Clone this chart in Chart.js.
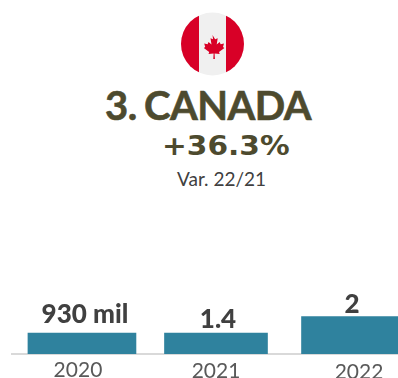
<!DOCTYPE html>
<html>
<head>
<meta charset="utf-8">
<script src="https://cdn.jsdelivr.net/npm/chart.js@4"></script>
<style>
  html, body { margin: 0; background: #fff; overflow: hidden; }
  #wrap { position: relative; width: 398px; height: 378px; }
  #myChart { position: absolute; left: 0; top: 0; }
  .txt { position: absolute; white-space: nowrap; line-height: 1; }
  #flag { position: absolute; left: 181px; top: 12px; }
  #title { left: 105px; top: 81px; font: 700 40px Lato, sans-serif; color: #4d4a2e; letter-spacing: -0.5px; word-spacing: -2px; -webkit-text-stroke: 0.6px #4d4a2e; }
  #change { left: 162px; top: 131px; font: 700 26px "DejaVu Sans", sans-serif; color: #4d4a2e; transform: scaleX(1.14); transform-origin: left top; }
  #note { left: 177px; top: 167px; font: 400 19px Lato, sans-serif; color: #404040; }
</style>
</head>
<body>
<div id="wrap">
  <svg id="flag" width="63" height="64" viewBox="0 0 63 64">
    <defs><clipPath id="disc"><circle cx="31.5" cy="32" r="31.5"/></clipPath></defs>
    <g clip-path="url(#disc)">
      <rect width="63" height="64" fill="#f0f0f0"/>
      <rect width="18" height="64" fill="#d80027"/>
      <rect x="45" width="18" height="64" fill="#d80027"/>
      <path fill="#d80027" d="M31.5 23l2.6 4.2 2.6-1-1 6.4 3-2.6.9 2.2 3.4-.6-1 3.4 1.4.9-5.4 4.2.7 2-5.1-.6.3 5.4h-1.6l.3-5.4-5.1.6.7-2-5.4-4.2 1.4-.9-1-3.4 3.4.6.9-2.2 3 2.6-1-6.4 2.6 1z"/>
    </g>
  </svg>
  <div class="txt" id="title">3. CANADA</div>
  <div class="txt" id="change">+36.3%</div>
  <div class="txt" id="note">Var. 22/21</div>
  <canvas id="myChart" width="398" height="378"></canvas>
</div>
<script>
  const years = [2020, 2021, 2022];
  // bar heights as drawn in the picture, the first two bars are the same height there
  const barValues = [1.12, 1.12, 2];
  const barLabels = ['930 mil', '1.4', '2'];
  const barWidths = [108, 103, 97];
  const yearShift = [-4, 0, 9];
  const yearY = [377, 378, 379];

  // draws the value above each bar and the year under it
  const barText = {
    id: 'barText',
    afterDatasetsDraw(chart) {
      const ctx = chart.ctx;
      ctx.save();
      ctx.textAlign = 'center';
      ctx.textBaseline = 'alphabetic';
      years.forEach((year, i) => {
        const bar = chart.getDatasetMeta(i).data[0];
        ctx.fillStyle = '#404040';
        ctx.font = '900 26px Lato, sans-serif';
        ctx.fillText(barLabels[i], bar.x + [3, 2, 2][i], bar.y - [10, 5, 4][i]);
        ctx.fillStyle = '#595959';
        ctx.font = '400 21px Lato, sans-serif';
        ctx.fillText(year, chart.scales.x.getPixelForValue(year) + yearShift[i], yearY[i]);
      });
      ctx.restore();
    }
  };

  new Chart(document.getElementById('myChart').getContext('2d'), {
    type: 'bar',
    data: {
      datasets: years.map((year, i) => ({
        data: [{ x: year, y: barValues[i] }],
        backgroundColor: '#2f829e',
        barThickness: barWidths[i],
        grouped: false
      }))
    },
    options: {
      responsive: false,
      animation: false,
      layout: { padding: { left: 12, right: 0, top: 279, bottom: 24 } },
      plugins: { legend: { display: false }, tooltip: { enabled: false } },
      scales: {
        x: {
          type: 'linear',
          offset: false,
          min: 2019.478,
          max: 2022.358,
          grid: { display: false, drawTicks: false },
          ticks: { display: false },
          border: { color: '#d9d9d9', width: 2 }
        },
        y: { display: false, min: 0, max: 4 }
      }
    },
    plugins: [barText]
  });
</script>
</body>
</html>
